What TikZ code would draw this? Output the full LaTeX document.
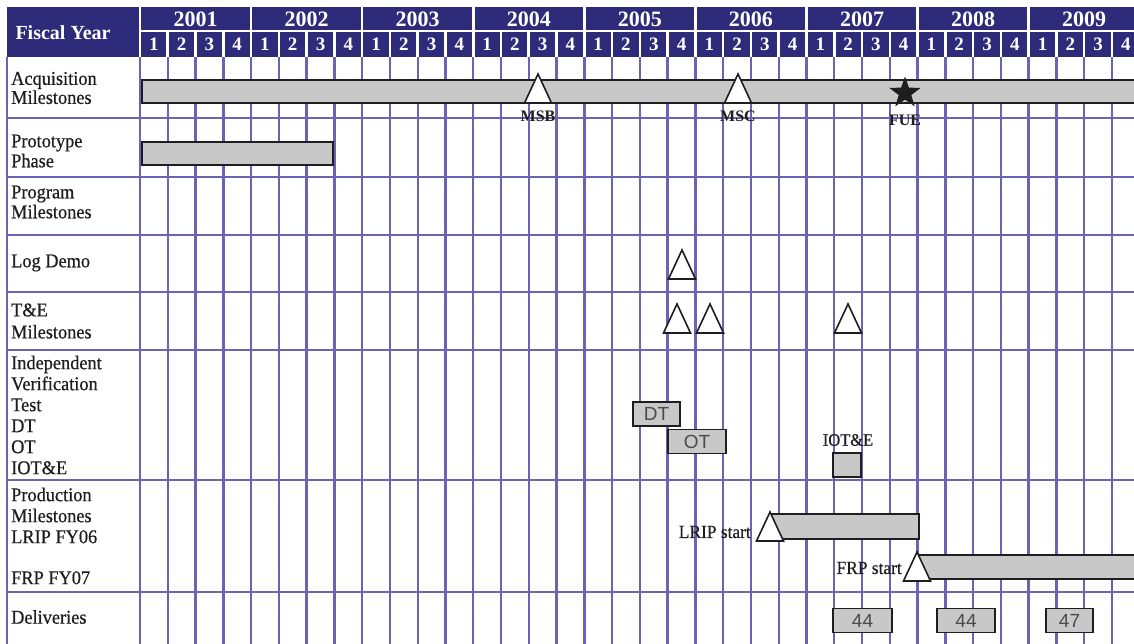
\documentclass[tikz,border=0pt]{standalone}
\usepackage{fontspec}
\setmainfont{Liberation Serif}
\newfontfamily\boxfont{Liberation Sans}
\newfontfamily\rowfont{Liberation Serif}[FakeBold=0.5, FakeStretch=0.94]
\usetikzlibrary{positioning, shapes.geometric}
\definecolor{navy}{HTML}{2E2B7A}
\definecolor{gridline}{HTML}{6B63B3}
\definecolor{barfill}{HTML}{C8C8C8}
\definecolor{ink}{HTML}{1E1E1E}

\begin{document}
\begin{tikzpicture}[x=1pt, y=-1pt,
  rule/.style={draw=gridline, line width=2.4pt},
  wsep/.style={draw=white, line width=2.6pt},
  yr/.style={text=white, inner sep=0pt, font=\fontsize{22}{22}\selectfont\bfseries},
  qt/.style={text=white, inner sep=0pt, font=\fontsize{19}{19}\selectfont\bfseries},
  lbl/.style={anchor=west, align=left, inner sep=0pt, text=ink, font=\rowfont\fontsize{19.5}{20}\selectfont},
  bar/.style={draw=ink, line width=1.6pt, fill=barfill},
  tri/.style={draw=ink, line width=1.6pt, fill=white, line join=miter},
  tag/.style={bar, inner sep=0pt, minimum height=24pt, text=ink!80, font=\boxfont\fontsize{19}{19}\selectfont},
  ms/.style={text=ink, inner sep=0pt, font=\fontsize{16}{16}\selectfont\bfseries},
  note/.style={text=ink, inner sep=0pt, font=\rowfont\fontsize{18.5}{18.5}\selectfont}]
  \def\qw{27.77}
  \useasboundingbox[fill=white] (0,0) rectangle (1134,644);

  % grid
  \draw[rule] (7,57) -- (7,644);
  \foreach \i in {0,...,35}
    \draw[rule] ({140+\i*\qw},57) -- ({140+\i*\qw},644);
  \foreach \h in {118,177,235,292,350,480,592}
    \draw[rule] (7,\h) -- (1134,\h);

  % header band
  \fill[navy] (7,7) rectangle (1134,57);
  \draw[wsep] (140,7) -- (140,57);
  \draw[wsep] (140,31) -- (1134,31);
  \foreach \i in {1,...,35}
    \draw[wsep] ({140+\i*\qw},31) -- ({140+\i*\qw},57);
  \foreach \i in {4,8,...,32}
    \draw[wsep] ({140+\i*\qw},7) -- ({140+\i*\qw},31);
  \node[yr, font=\fontsize{20}{20}\selectfont\bfseries] (fy) at (63,33) {Fiscal Year};
  \foreach \y [count=\k from 0] in {2001,...,2009}
    \node[yr] (y\y) at ({140+(4*\k+2)*\qw},19) {\y};
  \foreach \i in {0,...,35}{
    \pgfmathtruncatemacro\q{mod(\i,4)+1}
    \node[qt] (q\i) at ({140+(\i+0.5)*\qw},44) {\q};
  }

  % row labels
  \node[lbl, font=\rowfont\fontsize{19.5}{19}\selectfont] (acq) at (11,88) {Acquisition\\Milestones};
  \node[lbl] (proto) at (11,151) {Prototype\\Phase};
  \node[lbl] (prog) at (11,202) {Program\\Milestones};
  \node[lbl] (logd) at (11,263) {Log Demo};
  \node[lbl, font=\rowfont\fontsize{19.5}{22}\selectfont] (tem) at (11,321) {T\&E\\Milestones};
  \node[lbl, font=\rowfont\fontsize{19.5}{21}\selectfont] (ivt) at (11,415)
    {Independent\\Verification\\Test\\DT\\OT\\IOT\&E};
  \node[lbl, font=\rowfont\fontsize{19.5}{21}\selectfont] (prod) at (11,536)
    {Production\\Milestones\\LRIP FY06\\[20pt]FRP FY07};
  \node[lbl] (deliv) at (11,617) {Deliveries};

  % bars
  \draw[bar] (142,80) rectangle (1140,103);
  \draw[bar] (142,142) rectangle (333,165);
  \draw[bar] (770,514) rectangle (919,539);
  \draw[bar] (917,555) rectangle (1140,579);

  % milestones
  \foreach \x/\b in {538/103, 738/103, 682/279, 677/333, 710/333, 848/333, 770/541, 917/581}
    \draw[tri] (\x-13.5,\b) -- (\x,\b-29) -- (\x+13.5,\b) -- cycle;
  \node[star, star points=5, star point ratio=2.5, fill=ink, minimum size=33pt, inner sep=0pt]
    (fue) at (905,93) {};
  \node[ms] (msb) at (538,116) {MSB};
  \node[ms] (msc) at (738,116) {MSC};
  \node[ms] (fuel) at (905,120) {FUE};

  % test boxes
  \node[tag, minimum width=47pt] (dt) at (656.5,414) {DT};
  \node[tag, minimum width=58pt] (ot) at (697,441.5) {OT};
  \node[note, font=\rowfont\fontsize{17.5}{17.5}\selectfont] (iote) at (848,440) {IOT\&E};
  \node[tag, minimum width=28pt] (iotbox) at (847,465) {};

  % production labels
  \node[note, anchor=east] (lrip) at (751,532) {LRIP start};
  \node[note, anchor=east] (frp) at (902,568) {FRP start};

  % deliveries
  \node[tag, minimum width=59pt] (d07) at (862.5,620.5) {44};
  \node[tag, minimum width=58pt] (d08) at (966,620.5) {44};
  \node[tag, minimum width=47pt] (d09) at (1069.5,620.5) {47};
\end{tikzpicture}
\end{document}
